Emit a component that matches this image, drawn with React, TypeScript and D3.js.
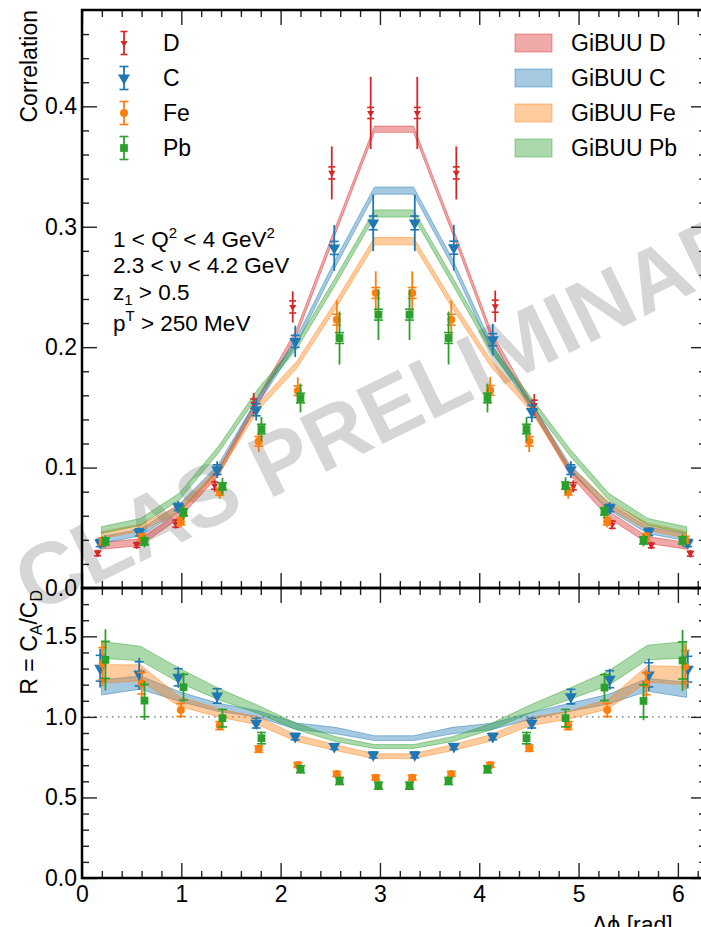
import React, { useEffect, useRef } from 'react';
import * as d3 from 'd3';

// bin centres in delta phi [rad]
const dphi = [0.196, 0.589, 0.982, 1.374, 1.767, 2.16, 2.553, 2.945, 3.338, 3.731, 4.123, 4.516, 4.909, 5.301, 5.694, 6.087];

// measured correlation (value, stat error, total error)
const corrD = [0.0288, 0.0357, 0.0534, 0.085, 0.153, 0.2334, 0.3447, 0.3945, 0.3945, 0.3447, 0.234, 0.152, 0.0844, 0.0526, 0.0354, 0.0285];
const corrDStat = [0.002, 0.002, 0.003, 0.003, 0.004, 0.005, 0.005, 0.0046, 0.0046, 0.005, 0.005, 0.004, 0.003, 0.003, 0.002, 0.002];
const corrDSys = [0.003, 0.003, 0.004, 0.005, 0.009, 0.013, 0.022, 0.03, 0.03, 0.022, 0.013, 0.009, 0.005, 0.004, 0.003, 0.003];

const corrC = [0.0374, 0.0462, 0.0673, 0.0983, 0.148, 0.2048, 0.2824, 0.3032, 0.3032, 0.2826, 0.2062, 0.1467, 0.0983, 0.0664, 0.0465, 0.0374];
const corrCStat = [0.003, 0.003, 0.003, 0.004, 0.005, 0.005, 0.0054, 0.0057, 0.0057, 0.0054, 0.005, 0.005, 0.004, 0.003, 0.003, 0.003];
const corrCSys = [0.004, 0.004, 0.005, 0.007, 0.009, 0.013, 0.019, 0.0235, 0.0235, 0.019, 0.013, 0.009, 0.007, 0.005, 0.004, 0.004];

const corrFe = [0.0387, 0.042, 0.0553, 0.08, 0.1218, 0.1639, 0.2228, 0.245, 0.245, 0.2228, 0.1641, 0.1218, 0.0802, 0.0553, 0.0423, 0.04];
const corrFeStat = [0.003, 0.003, 0.003, 0.003, 0.004, 0.004, 0.0045, 0.0045, 0.0045, 0.0045, 0.004, 0.004, 0.003, 0.003, 0.003, 0.003];
const corrFeSys = [0.004, 0.004, 0.005, 0.006, 0.009, 0.011, 0.016, 0.018, 0.018, 0.016, 0.011, 0.009, 0.006, 0.005, 0.004, 0.004];

const corrPb = [0.0387, 0.0387, 0.0628, 0.0844, 0.132, 0.1578, 0.2076, 0.227, 0.227, 0.2076, 0.1578, 0.132, 0.085, 0.0636, 0.0395, 0.0395];
const corrPbStat = [0.003, 0.003, 0.003, 0.003, 0.004, 0.004, 0.0045, 0.0045, 0.0045, 0.0045, 0.004, 0.004, 0.003, 0.003, 0.003, 0.003];
const corrPbSys = [0.005, 0.005, 0.006, 0.007, 0.01, 0.012, 0.022, 0.021, 0.021, 0.022, 0.012, 0.01, 0.007, 0.006, 0.005, 0.005];

// GiBUU correlation bands (centre, half width)
const gibuuD = [0.035, 0.038, 0.061, 0.096, 0.155, 0.212, 0.297, 0.381, 0.381, 0.297, 0.21, 0.153, 0.097, 0.061, 0.04, 0.035];
const gibuuDErr = [0.0028, 0.0028, 0.0028, 0.0028, 0.0028, 0.0028, 0.0028, 0.0026, 0.0026, 0.0028, 0.0028, 0.0028, 0.0028, 0.0028, 0.0028, 0.0028];
const gibuuC = [0.04, 0.046, 0.067, 0.1, 0.155, 0.205, 0.27, 0.33, 0.33, 0.27, 0.2, 0.152, 0.1, 0.068, 0.048, 0.042];
const gibuuCErr = [0.0028, 0.0028, 0.0028, 0.0028, 0.0028, 0.0028, 0.003, 0.003, 0.003, 0.003, 0.0028, 0.0028, 0.0028, 0.0028, 0.0028, 0.0028];
const gibuuFe = [0.044, 0.05, 0.066, 0.097, 0.15, 0.185, 0.235, 0.288, 0.288, 0.235, 0.186, 0.15, 0.099, 0.069, 0.051, 0.044];
const gibuuFeErr = [0.0028, 0.0028, 0.0028, 0.0028, 0.0028, 0.0028, 0.003, 0.003, 0.003, 0.003, 0.0028, 0.0028, 0.0028, 0.0028, 0.0028, 0.0028];
const gibuuPb = [0.048, 0.055, 0.076, 0.115, 0.162, 0.201, 0.255, 0.311, 0.311, 0.255, 0.198, 0.156, 0.113, 0.076, 0.055, 0.048];
const gibuuPbErr = [0.0028, 0.0028, 0.0028, 0.0028, 0.0028, 0.0028, 0.003, 0.003, 0.003, 0.003, 0.0028, 0.0028, 0.0028, 0.0028, 0.0028, 0.0028];

// measured ratio R = C_A / C_D
const ratioC = [1.302, 1.267, 1.246, 1.13, 0.961, 0.878, 0.816, 0.764, 0.764, 0.816, 0.878, 0.961, 1.126, 1.234, 1.261, 1.296];
const ratioCStat = [0.08, 0.075, 0.053, 0.045, 0.03, 0.02, 0.018, 0.018, 0.018, 0.018, 0.02, 0.03, 0.045, 0.053, 0.075, 0.08];
const ratioCSys = [0.12, 0.1, 0.065, 0.05, 0.035, 0.022, 0.02, 0.02, 0.02, 0.02, 0.022, 0.035, 0.05, 0.065, 0.1, 0.12];
const ratioFe = [1.33, 1.209, 1.043, 0.946, 0.8, 0.702, 0.646, 0.623, 0.623, 0.646, 0.702, 0.806, 0.946, 1.043, 1.205, 1.312];
const ratioFeStat = [0.1, 0.067, 0.04, 0.025, 0.02, 0.015, 0.015, 0.015, 0.015, 0.015, 0.015, 0.02, 0.025, 0.04, 0.067, 0.1];
const ratioFeSys = [0.14, 0.09, 0.05, 0.03, 0.022, 0.017, 0.016, 0.016, 0.016, 0.016, 0.017, 0.022, 0.03, 0.05, 0.09, 0.14];
const ratioPb = [1.354, 1.101, 1.184, 0.992, 0.868, 0.675, 0.602, 0.573, 0.573, 0.602, 0.675, 0.868, 0.992, 1.182, 1.099, 1.35];
const ratioPbStat = [0.115, 0.1, 0.08, 0.054, 0.035, 0.022, 0.022, 0.022, 0.022, 0.022, 0.022, 0.035, 0.054, 0.08, 0.1, 0.115];
const ratioPbSys = [0.19, 0.12, 0.09, 0.06, 0.04, 0.025, 0.024, 0.024, 0.024, 0.024, 0.025, 0.04, 0.06, 0.09, 0.12, 0.19];

// GiBUU ratio bands
const gibuuRatioC = [1.183, 1.213, 1.126, 1.059, 1.019, 0.942, 0.915, 0.868, 0.868, 0.915, 0.94, 1.006, 1.059, 1.11, 1.199, 1.168];
const gibuuRatioCErr = [0.047, 0.041, 0.03, 0.025, 0.02, 0.02, 0.02, 0.015, 0.015, 0.02, 0.02, 0.02, 0.025, 0.03, 0.04, 0.047];
const gibuuRatioFe = [1.267, 1.273, 1.095, 1.025, 0.976, 0.868, 0.809, 0.756, 0.756, 0.809, 0.87, 0.971, 1.012, 1.081, 1.267, 1.256];
const gibuuRatioFeErr = [0.057, 0.05, 0.03, 0.025, 0.025, 0.02, 0.018, 0.015, 0.015, 0.018, 0.02, 0.025, 0.025, 0.03, 0.05, 0.057];
const gibuuRatioPb = [1.416, 1.393, 1.256, 1.142, 1.048, 0.94, 0.862, 0.816, 0.816, 0.862, 0.94, 1.05, 1.143, 1.24, 1.4, 1.416];
const gibuuRatioPbErr = [0.052, 0.045, 0.045, 0.035, 0.025, 0.02, 0.015, 0.012, 0.012, 0.015, 0.02, 0.025, 0.035, 0.045, 0.045, 0.052];

const xMajor = [0, 1, 2, 3, 4, 5, 6];
const yTopMajor = [0, 0.1, 0.2, 0.3, 0.4];
const yBotMajor = [0, 0.5, 1.0, 1.5];

const series = [
  { key: 'D', color: '#d62728', shape: 'tri', size: 22, dodge: -0.038, corr: corrD, stat: corrDStat, sys: corrDSys, model: gibuuD, modelErr: gibuuDErr },
  { key: 'C', color: '#1f77b4', shape: 'tri', size: 62, dodge: -0.013, corr: corrC, stat: corrCStat, sys: corrCSys, model: gibuuC, modelErr: gibuuCErr,
    ratio: ratioC, rStat: ratioCStat, rSys: ratioCSys, rModel: gibuuRatioC, rModelErr: gibuuRatioCErr },
  { key: 'Fe', color: '#ff7f0e', shape: 'circle', size: 50, dodge: 0.013, corr: corrFe, stat: corrFeStat, sys: corrFeSys, model: gibuuFe, modelErr: gibuuFeErr,
    ratio: ratioFe, rStat: ratioFeStat, rSys: ratioFeSys, rModel: gibuuRatioFe, rModelErr: gibuuRatioFeErr },
  { key: 'Pb', color: '#2ca02c', shape: 'square', size: 60, dodge: 0.04, corr: corrPb, stat: corrPbStat, sys: corrPbSys, model: gibuuPb, modelErr: gibuuPbErr,
    ratio: ratioPb, rStat: ratioPbStat, rSys: ratioPbSys, rModel: gibuuRatioPb, rModelErr: gibuuRatioPbErr },
];

const FONT = '"Liberation Sans", Arial, Helvetica, sans-serif';

function markerPath(s) {
  const type = s.shape === 'circle' ? d3.symbolCircle : s.shape === 'square' ? d3.symbolSquare : d3.symbolTriangle;
  return d3.symbol().type(type).size(s.size)();
}

function drawChart(node) {
  const svg = d3.select(node);
  svg.selectAll('*').remove();

  const x = d3.scaleLinear().domain([0, 2 * Math.PI]).range([82, 706]);
  const yTop = d3.scaleLinear().domain([0, 0.48]).range([588, 10]);
  const yBot = d3.scaleLinear().domain([0, 1.8]).range([878, 588]);
  const px = (i, dodge) => x(dphi[i] + (dphi[i] < Math.PI ? dodge : -dodge));

  // watermark
  svg
    .append('text')
    .attr('transform', 'translate(34,614) rotate(-26)')
    .attr('font-family', FONT)
    .attr('font-weight', 'bold')
    .attr('font-size', 87)
    .attr('fill', '#d6d6d6')
    .text('CLAS PRELIMINARY');

  // R = 1 reference line
  svg
    .append('line')
    .attr('x1', x(0))
    .attr('x2', x(2 * Math.PI))
    .attr('y1', yBot(1))
    .attr('y2', yBot(1))
    .attr('stroke', '#999')
    .attr('stroke-width', 1.6)
    .attr('stroke-dasharray', '1.6,4.4');

  // model bands
  const band = (y, vals, errs) =>
    d3
      .area()
      .x((d, i) => x(dphi[i]))
      .y0((d, i) => y(vals[i] - errs[i]))
      .y1((d, i) => y(vals[i] + errs[i]))(vals);

  const bands = svg.append('g');
  series.forEach((s) => {
    bands
      .append('path')
      .attr('d', band(yTop, s.model, s.modelErr))
      .attr('fill', s.color)
      .attr('fill-opacity', 0.4)
      .attr('stroke', s.color)
      .attr('stroke-opacity', 0.45)
      .attr('stroke-width', 1);
  });
  series
    .filter((s) => s.ratio)
    .forEach((s) => {
      bands
        .append('path')
        .attr('d', band(yBot, s.rModel, s.rModelErr))
        .attr('fill', s.color)
        .attr('fill-opacity', 0.4)
        .attr('stroke', s.color)
        .attr('stroke-opacity', 0.45)
        .attr('stroke-width', 1);
    });

  // data points with error bars
  const drawPoints = (y, s, vals, stat, sys) => {
    const g = svg.append('g').attr('stroke', s.color).attr('fill', s.color);
    const cap = s.key === 'D' ? 3.5 : 4.5;
    g.selectAll('line.sys')
      .data(vals)
      .join('line')
      .attr('x1', (d, i) => px(i, s.dodge))
      .attr('x2', (d, i) => px(i, s.dodge))
      .attr('y1', (d, i) => y(d - sys[i]))
      .attr('y2', (d, i) => y(d + sys[i]))
      .attr('stroke-width', 1.8);
    [-1, 1].forEach((sign) => {
      g.selectAll(null)
        .data(vals)
        .join('line')
        .attr('x1', (d, i) => px(i, s.dodge) - cap)
        .attr('x2', (d, i) => px(i, s.dodge) + cap)
        .attr('y1', (d, i) => y(d + sign * stat[i]))
        .attr('y2', (d, i) => y(d + sign * stat[i]))
        .attr('stroke-width', 1.6);
    });
    g.selectAll('path')
      .data(vals)
      .join('path')
      .attr('d', markerPath(s))
      .attr('stroke', 'none')
      .attr('transform', (d, i) => `translate(${px(i, s.dodge)},${y(d)})${s.shape === 'tri' ? ' rotate(180)' : ''}`);
  };
  series.forEach((s) => drawPoints(yTop, s, s.corr, s.stat, s.sys));
  series.filter((s) => s.ratio).forEach((s) => drawPoints(yBot, s, s.ratio, s.rStat, s.rSys));

  // axes: inward ticks on all four sides of each panel
  const styleAxis = (g) => {
    g.select('.domain').remove();
    g.selectAll('.tick line').attr('stroke', '#222').attr('stroke-width', 1.4);
    g.attr('font-family', FONT).attr('font-size', 23);
    g.selectAll('.tick text').attr('fill', '#000');
  };
  const xMinor = d3.range(0, 6.3, 0.2).filter((v) => Math.abs(v - Math.round(v)) > 1e-6);
  const panel = (y, yMajor, yMinor, top, bottom, showX) => {
    const fmt = d3.format('.1f');
    [
      [d3.axisBottom(x), bottom, xMajor, xMinor, showX],
      [d3.axisTop(x), top, xMajor, xMinor, false],
    ].forEach(([axis, pos, major, minor, labels]) => {
      svg.append('g').attr('transform', `translate(0,${pos})`)
        .call(axis.tickValues(major).tickSize(-15).tickPadding(8).tickFormat(labels ? d3.format('d') : () => ''))
        .call(styleAxis);
      svg.append('g').attr('transform', `translate(0,${pos})`)
        .call(axis.tickValues(minor).tickSize(-7).tickFormat(() => ''))
        .call(styleAxis);
    });
    [
      [d3.axisLeft(y), 82, true],
      [d3.axisRight(y), 706, false],
    ].forEach(([axis, pos, labels]) => {
      svg.append('g').attr('transform', `translate(${pos},0)`)
        .call(axis.tickValues(yMajor).tickSize(-15).tickPadding(5).tickFormat(labels ? fmt : () => ''))
        .call(styleAxis);
      svg.append('g').attr('transform', `translate(${pos},0)`)
        .call(axis.tickValues(yMinor).tickSize(-7).tickFormat(() => ''))
        .call(styleAxis);
    });
    svg
      .append('rect')
      .attr('x', 82)
      .attr('y', top)
      .attr('width', 624)
      .attr('height', bottom - top)
      .attr('fill', 'none')
      .attr('stroke', '#000')
      .attr('stroke-width', 2.5);
  };
  panel(yTop, yTopMajor, d3.range(0.02, 0.48, 0.02).filter((v) => Math.abs(v * 10 - Math.round(v * 10)) > 1e-6), 10, 588, false);
  panel(yBot, yBotMajor, d3.range(0.1, 1.8, 0.1).filter((v) => Math.abs(v * 2 - Math.round(v * 2)) > 1e-6), 588, 878, true);

  // axis titles
  const txt = svg.append('g').attr('font-family', FONT).attr('font-size', 23).attr('fill', '#000');
  txt.append('text').attr('transform', 'translate(37,10) rotate(-90)').attr('text-anchor', 'end').text('Correlation');
  const rl = txt.append('text').attr('transform', 'translate(37,590) rotate(-90)').attr('text-anchor', 'end');
  rl.append('tspan').text('R = C');
  rl.append('tspan').attr('font-size', 16).attr('dy', 5).text('A');
  rl.append('tspan').attr('dy', -5).text('/C');
  rl.append('tspan').attr('font-size', 16).attr('dy', 5).text('D');
  txt.append('text').attr('x', 592).attr('y', 933).text('Δϕ [rad]');

  // kinematic cuts
  const cuts = txt.append('g').attr('font-size', 22.5);
  const l1 = cuts.append('text').attr('x', 113).attr('y', 247);
  l1.append('tspan').text('1 < Q');
  l1.append('tspan').attr('font-size', 15).attr('dy', -9).text('2');
  l1.append('tspan').attr('dy', 9).text(' < 4 GeV');
  l1.append('tspan').attr('font-size', 15).attr('dy', -9).text('2');
  cuts.append('text').attr('x', 113).attr('y', 273).text('2.3 < ν < 4.2 GeV');
  const l3 = cuts.append('text').attr('x', 113).attr('y', 300);
  l3.append('tspan').text('z');
  l3.append('tspan').attr('font-size', 15).attr('dy', 5).text('1');
  l3.append('tspan').attr('dy', -5).text(' > 0.5');
  const l4 = cuts.append('text').attr('x', 113).attr('y', 331);
  l4.append('tspan').text('p');
  l4.append('tspan').attr('font-size', 15).attr('dy', -10).text('T');
  l4.append('tspan').attr('dy', 10).text(' > 250 MeV');

  // legends
  const rows = [43, 78, 113, 148];
  series.forEach((s, k) => {
    const cy = rows[k];
    const g = svg.append('g').attr('stroke', s.color).attr('fill', s.color);
    const cap = s.key === 'D' ? 3.5 : 4.5;
    g.append('line').attr('x1', 124).attr('x2', 124).attr('y1', cy - 11.5).attr('y2', cy + 11.5).attr('stroke-width', 1.8);
    [-11.5, 11.5].forEach((dy) =>
      g.append('line').attr('x1', 124 - cap).attr('x2', 124 + cap).attr('y1', cy + dy).attr('y2', cy + dy).attr('stroke-width', 1.6),
    );
    g.append('path')
      .attr('d', markerPath(s))
      .attr('stroke', 'none')
      .attr('transform', `translate(124,${cy})${s.shape === 'tri' ? ' rotate(180)' : ''}`);
    txt.append('text').attr('x', 163).attr('y', cy).attr('dy', '0.35em').text(s.key);

    svg
      .append('rect')
      .attr('x', 515)
      .attr('y', cy - 9)
      .attr('width', 37)
      .attr('height', 18)
      .attr('fill', s.color)
      .attr('fill-opacity', 0.4)
      .attr('stroke', s.color)
      .attr('stroke-opacity', 0.45)
      .attr('stroke-width', 1);
    txt.append('text').attr('x', 571).attr('y', cy).attr('dy', '0.35em').text(`GiBUU ${s.key}`);
  });
}

export default function App() {
  const ref = useRef(null);
  useEffect(() => {
    if (ref.current) drawChart(ref.current);
  }, []);
  return (
    <svg
      ref={ref}
      width={701}
      height={927}
      style={{ position: 'absolute', left: 0, top: 0, background: '#fff' }}
    />
  );
}
